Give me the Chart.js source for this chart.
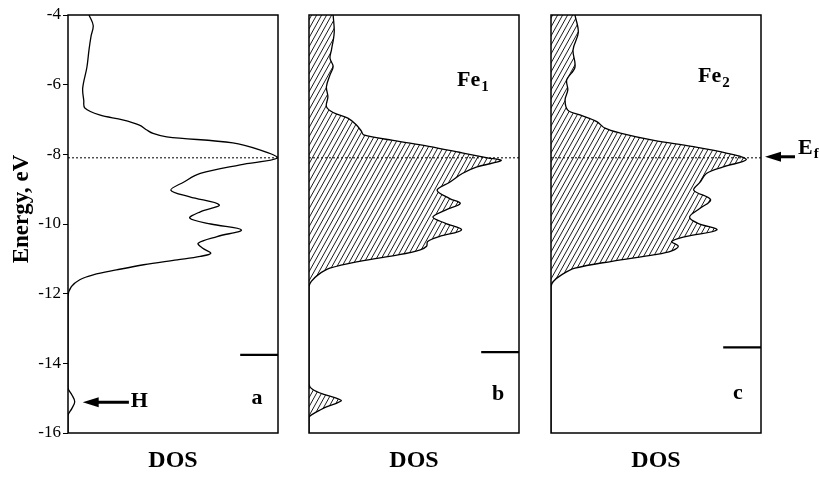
<!DOCTYPE html>
<html>
<head>
<meta charset="utf-8">
<script src="https://cdn.jsdelivr.net/npm/chart.js@4.4.1/dist/chart.umd.min.js"></script>
<style>
  body { margin: 0; background: #fff; }
  #wrap { position: relative; width: 819px; height: 477px; }
  #wrap canvas { position: absolute; top: 0; }
</style>
</head>
<body>
<div id="wrap">
  <canvas id="dos-a" width="290" height="477" style="left:0"></canvas>
  <canvas id="dos-b" width="241" height="477" style="left:290px"></canvas>
  <canvas id="dos-c" width="288" height="477" style="left:531px"></canvas>
</div>
<script>
// energy axis (eV) and density of states (relative, 1 = full panel width)
const energyA = [-4.0, -4.3, -4.6, -5.0, -5.5, -6.1, -6.45, -6.67, -6.87, -7.01, -7.16, -7.3, -7.4, -7.5,
                 -7.67, -7.87, -8.1, -8.3, -8.55, -8.8, -9.03, -9.22, -9.45, -9.65, -9.83, -10.0, -10.17,
                 -10.36, -10.55, -10.69, -10.84, -10.93, -11.03, -11.17, -11.32, -11.46, -11.6, -11.8,
                 -12.08, -14.7, -14.9, -15.1, -15.3, -15.5, -16.0];
const dosA = [0.10, 0.12, 0.11, 0.10, 0.09, 0.07, 0.075, 0.08, 0.15, 0.26, 0.34, 0.375, 0.405, 0.47,
              0.785, 0.913, 1.0, 0.82, 0.63, 0.55, 0.49, 0.58, 0.72, 0.63, 0.58, 0.68, 0.826,
              0.71, 0.62, 0.64, 0.68, 0.63, 0.52, 0.36, 0.23, 0.12, 0.056, 0.016,
              0, 0, 0.018, 0.032, 0.018, 0, 0];

const energyFe1 = [-4.0, -4.5, -5.0, -5.24, -5.48, -5.72, -6.06, -6.35, -6.63, -6.8, -6.96, -7.15, -7.34,
                   -7.44, -7.6, -7.77, -7.97, -8.1, -8.18, -8.36, -8.55, -8.8, -9.03, -9.27, -9.41, -9.6,
                   -9.8, -9.98, -10.17, -10.36, -10.5, -10.64, -10.74, -10.88, -11.07, -11.27, -11.46,
                   -11.65, -11.8, -14.6, -14.75, -14.9, -15.0, -15.07, -15.15, -15.25, -15.35, -15.45,
                   -15.55, -16.0];
const dosFe1 = [0.115, 0.12, 0.107, 0.10, 0.115, 0.10, 0.083, 0.09, 0.083, 0.115, 0.185, 0.225, 0.25,
                0.26, 0.40, 0.57, 0.74, 0.85, 0.915, 0.80, 0.73, 0.67, 0.61, 0.67, 0.72, 0.65,
                0.59, 0.65, 0.726, 0.62, 0.565, 0.56, 0.53, 0.43, 0.24, 0.099, 0.043,
                0.011, 0, 0, 0.018, 0.075, 0.13, 0.154, 0.13, 0.083, 0.05, 0.02,
                0, 0];

const energyFe2 = [-4.0, -4.5, -5.0, -5.5, -5.86, -6.15, -6.44, -6.73, -6.87, -7.06, -7.25, -7.39, -7.6,
                   -7.77, -7.97, -8.15, -8.36, -8.55, -8.8, -9.03, -9.3, -9.55, -9.8, -9.98, -10.17,
                   -10.36, -10.5, -10.64, -10.77, -10.88, -11.07, -11.27, -11.46, -11.65, -11.8, -16.0];
const dosFe2 = [0.114, 0.13, 0.105, 0.114, 0.075, 0.08, 0.067, 0.08, 0.138, 0.218, 0.257, 0.33, 0.49,
                0.67, 0.84, 0.93, 0.82, 0.74, 0.71, 0.68, 0.76, 0.71, 0.66, 0.70, 0.79,
                0.64, 0.575, 0.606, 0.575, 0.495, 0.29, 0.114, 0.05, 0.011, 0, 0];

const fermiLevel = -8.1;
const markerLevels = [-13.76, -13.68, -13.54];  // short bars on the right edge
const markerDos = [0.82, 1.0];
const energyTicks = [-16, -14, -12, -10, -8, -6, -4];

const serif = 'Liberation Serif';

const pts = (e, d) => e.map((v, i) => ({ x: d[i], y: v }));

// diagonal hatch for the filled curves
function hatch() {
  const c = document.createElement('canvas');
  c.width = 5; c.height = 9;
  const g = c.getContext('2d');
  g.strokeStyle = '#000';
  g.lineWidth = 0.9;
  for (const dx of [-5, 0, 5]) {
    g.beginPath(); g.moveTo(dx, 9); g.lineTo(dx + 5, 0); g.stroke();
  }
  return g.createPattern(c, 'repeat');
}

// box around the plot area
const panelFrame = {
  id: 'panelFrame',
  afterDraw(chart) {
    const { ctx, chartArea: a } = chart;
    ctx.save();
    ctx.strokeStyle = '#000';
    ctx.lineWidth = 1.5;
    ctx.strokeRect(a.left, a.top, a.right - a.left, a.bottom - a.top);
    ctx.restore();
  }
};

// labels and arrows placed in data coordinates
const panelNotes = {
  id: 'panelNotes',
  afterDraw(chart, args, opts) {
    const { ctx, scales: { x, y } } = chart;
    ctx.save();
    ctx.fillStyle = '#000';
    ctx.strokeStyle = '#000';
    for (const it of opts.items || []) {
      const py = y.getPixelForValue(it.y);
      if (it.arrow) {
        const tip = x.getPixelForValue(it.arrow[0]);
        const end = x.getPixelForValue(it.arrow[1]);
        ctx.lineWidth = 3;
        ctx.beginPath(); ctx.moveTo(tip + 10, py); ctx.lineTo(end, py); ctx.stroke();
        ctx.beginPath();
        ctx.moveTo(tip, py); ctx.lineTo(tip + 16, py - 5); ctx.lineTo(tip + 16, py + 5);
        ctx.closePath(); ctx.fill();
        continue;
      }
      const px = it.px !== undefined ? it.px : x.getPixelForValue(it.x);
      ctx.font = 'bold ' + (it.size || 22) + 'px "' + serif + '"';
      ctx.textBaseline = 'middle';
      if (it.rotate) {
        ctx.save();
        ctx.translate(px, py);
        ctx.rotate(-Math.PI / 2);
        ctx.textAlign = 'center';
        ctx.fillText(it.text, 0, 0);
        ctx.restore();
        continue;
      }
      ctx.textAlign = it.align || 'center';
      ctx.fillText(it.text, px, py);
      if (it.sub) {
        const w = ctx.measureText(it.text).width;
        ctx.font = 'bold 15px "' + serif + '"';
        ctx.textAlign = 'left';
        ctx.fillText(it.sub, px + w + 1, py + (it.subDy || 7));
      }
    }
    ctx.restore();
  }
};

function makePanel(id, energy, dos, cfg) {
  return new Chart(document.getElementById(id), {
    type: 'line',
    data: {
      datasets: [
        {
          data: pts(energy, dos),
          borderColor: '#000', borderWidth: 1.3, pointRadius: 0, tension: 0.35,
          fill: cfg.hatched ? 'origin' : false,
          backgroundColor: cfg.hatched ? hatch() : 'transparent',
          order: 2
        },
        {
          data: [{ x: 0, y: fermiLevel }, { x: 1, y: fermiLevel }],
          borderColor: '#000', borderWidth: 1, borderDash: [2, 2], pointRadius: 0, fill: false,
          order: 1
        },
        {
          data: markerDos.map(d => ({ x: d, y: cfg.marker })),
          borderColor: '#000', borderWidth: 2.2, pointRadius: 0, fill: false,
          order: 1
        }
      ]
    },
    options: {
      indexAxis: 'y',
      responsive: false,
      animation: false,
      layout: { padding: cfg.padding },
      plugins: {
        legend: { display: false },
        tooltip: { enabled: false },
        panelNotes: { items: cfg.notes }
      },
      scales: {
        x: {
          type: 'linear', min: 0, max: 1,
          grid: { display: false },
          ticks: { display: false },
          border: { display: false },
          title: {
            display: true, text: 'DOS', color: '#000',
            font: { family: serif, size: 24, weight: 'bold' },
            padding: { top: 0, bottom: 2 }
          },
          afterFit: s => { s.height = 44; }
        },
        y: {
          type: 'linear', min: -16, max: -4,
          display: cfg.axis,
          afterBuildTicks: s => { s.ticks = energyTicks.map(v => ({ value: v })); },
          ticks: { color: '#000', font: { family: serif, size: 17 }, padding: 2 },
          grid: { drawOnChartArea: false, tickLength: 5, color: '#000' },
          border: { display: false },
          afterFit: s => { if (cfg.axis) s.width = 68; }
        }
      }
    },
    plugins: [panelFrame, panelNotes]
  });
}

makePanel('dos-a', energyA, dosA, {
  hatched: false, axis: true, marker: markerLevels[0],
  padding: { top: 15, right: 12, left: 0, bottom: 0 },
  notes: [
    { text: 'a', x: 0.9, y: -15.0 },
    { text: 'H', x: 0.34, y: -15.09 },
    { arrow: [0.07, 0.29], y: -15.12 },
    { text: 'Energy, eV', px: 22, y: -9.57, rotate: true, size: 23 }
  ]
});

makePanel('dos-b', energyFe1, dosFe1, {
  hatched: true, axis: false, marker: markerLevels[1],
  padding: { top: 15, right: 12, left: 19, bottom: 0 },
  notes: [
    { text: 'b', x: 0.9, y: -14.9 },
    { text: 'Fe', sub: '1', x: 0.705, y: -5.87, align: 'left' }
  ]
});

makePanel('dos-c', energyFe2, dosFe2, {
  hatched: true, axis: false, marker: markerLevels[2],
  padding: { top: 15, right: 58, left: 20, bottom: 0 },
  notes: [
    { text: 'c', x: 0.89, y: -14.85 },
    { text: 'Fe', sub: '2', x: 0.70, y: -5.75, align: 'left' },
    { arrow: [1.019, 1.162], y: -8.07 },
    { text: 'E', sub: 'f', subDy: 6, x: 1.176, y: -7.82, align: 'left' }
  ]
});
</script>
</body>
</html>
